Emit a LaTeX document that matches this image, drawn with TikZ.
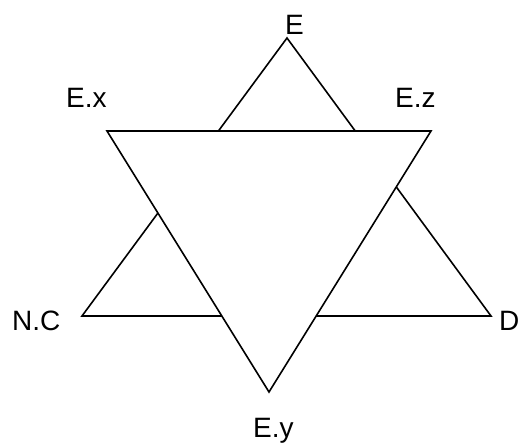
\documentclass[tikz,border=0pt]{standalone}
\usepackage{fontspec}
\setmainfont{Liberation Sans}
\begin{document}
\begin{tikzpicture}[x=1pt,y=-1pt,
  edge/.style={draw=black,line width=1.6pt},
  lbl/.style={anchor=base west,inner sep=0pt,font=\fontsize{28}{34}\selectfont}]
\useasboundingbox (0,0) rectangle (520,444);
% upward triangle vertices
\coordinate (E) at (287,38);
\coordinate (NC) at (82,316);
\coordinate (D) at (491,316);
% downward triangle vertices
\coordinate (Ex) at (107,131);
\coordinate (Ez) at (431,131);
\coordinate (Ey) at (269,392);
\draw[edge] (E) -- (NC) -- (D) -- cycle;
\filldraw[edge,fill=white] (Ex) -- (Ez) -- (Ey) -- cycle;
% labels
\node[lbl] (lE) at (285,35) {E};
\node[lbl] (lEx) at (66,108) {E.x};
\node[lbl] (lEz) at (395,108) {E.z};
\node[lbl] (lNC) at (12,330) {N.C};
\node[lbl] (lD) at (499,330) {D};
\node[lbl] (lEy) at (253,437) {E.y};
\end{tikzpicture}
\end{document}
